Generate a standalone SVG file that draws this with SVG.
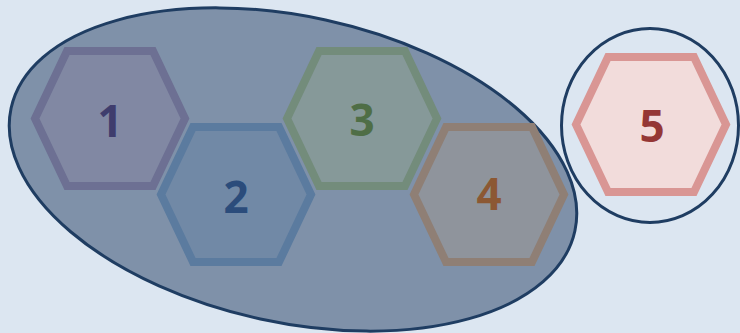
<svg xmlns="http://www.w3.org/2000/svg" width="740" height="333" viewBox="0 0 740 333">
<style>
.hex{stroke-width:8;stroke-linejoin:miter}
.lbl{font-family:"Open Sans","Liberation Sans",sans-serif;font-weight:bold;font-size:44px;text-anchor:middle}
.grp{stroke:#1f3d62;stroke-width:3}
</style>
<rect width="740" height="333" fill="#dce6f1"/>
<g id="group-a">
<ellipse class="grp" cx="293" cy="169.5" rx="288.5" ry="153" transform="rotate(12.3 293 169.5)" fill="#7f91a9"/>
</g>
<g id="group-b">
<ellipse class="grp" cx="650" cy="125.5" rx="88.5" ry="97" fill="#dce6f1"/>
</g>
<g id="node-1">
<polygon class="hex" points="35,118.5 67,51 153,51 185,118.5 153,186 67,186" fill="#8188a3" stroke="#6d7093"/>
<text class="lbl" x="110" y="137" fill="#3f3d6d">1</text>
</g>
<g id="node-2">
<polygon class="hex" points="161,194.5 193,127 279,127 311,194.5 279,262 193,262" fill="#7189a6" stroke="#5b7b9f"/>
<text class="lbl" x="236" y="213" fill="#2b4c7b">2</text>
</g>
<g id="node-3">
<polygon class="hex" points="287,118.5 319,51 405,51 437,118.5 405,186 319,186" fill="#869999" stroke="#738c7b"/>
<text class="lbl" x="362" y="136" fill="#4f6e46">3</text>
</g>
<g id="node-4">
<polygon class="hex" points="414,194.5 446,127 532,127 564,194.5 532,262 446,262" fill="#8f949c" stroke="#8f7f75"/>
<text class="lbl" x="489" y="210" fill="#8c5833">4</text>
</g>
<g id="node-5">
<polygon class="hex" points="576,124.5 608,57 694,57 726,124.5 694,192 608,192" fill="#f2dcdb" stroke="#d99694"/>
<text class="lbl" x="652" y="142" fill="#953735">5</text>
</g>
<g id="connectors"/>
</svg>
